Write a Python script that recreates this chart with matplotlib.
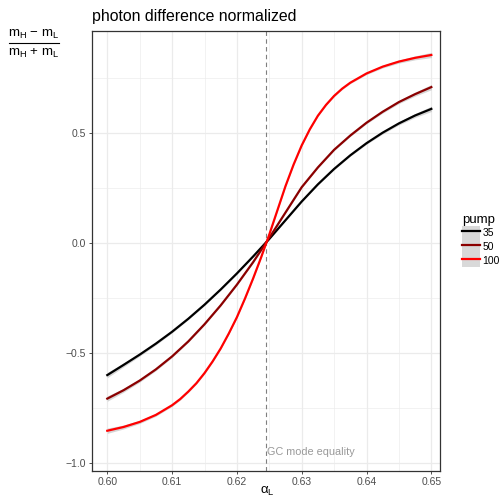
import matplotlib
matplotlib.use('Agg')
import matplotlib.pyplot as plt
from matplotlib.lines import Line2D
from matplotlib.patches import Patch
from matplotlib.ticker import MultipleLocator

plt.rcParams['font.family'] = ['Liberation Sans', 'DejaVu Sans']
plt.rcParams['mathtext.fontset'] = 'dejavusans'

# alpha_L values where the curves were read
alpha = [0.600, 0.6025, 0.605, 0.6075, 0.610, 0.6125, 0.615, 0.6175, 0.620, 0.6225,
         0.625, 0.6275, 0.630, 0.6325, 0.635, 0.6375, 0.640, 0.6425, 0.645, 0.6475, 0.650]

pump_35 = [-0.599, -0.553, -0.506, -0.456, -0.402, -0.343, -0.279, -0.210, -0.137, -0.060,
           0.020, 0.105, 0.190, 0.268, 0.338, 0.400, 0.455, 0.503, 0.545, 0.581, 0.611]
pump_50 = [-0.706, -0.668, -0.624, -0.573, -0.514, -0.446, -0.368, -0.282, -0.188, -0.086,
           0.025, 0.140, 0.255, 0.345, 0.425, 0.490, 0.548, 0.598, 0.642, 0.678, 0.710]
# standard error band half width
se = [0.012, 0.009, 0.007, 0.006, 0.005, 0.004, 0.004, 0.003, 0.003, 0.003,
      0.003, 0.003, 0.003, 0.003, 0.004, 0.004, 0.005, 0.006, 0.007, 0.009, 0.012]

# the pump 100 curve bends sharply, so it was read more densely
alpha_100 = [0.600, 0.6025, 0.605, 0.6075, 0.610, 0.61125, 0.6125, 0.61375, 0.615, 0.61625,
             0.6175, 0.61875, 0.620, 0.62125, 0.6225, 0.62375, 0.625, 0.62625, 0.6275, 0.62875,
             0.630, 0.63125, 0.6325, 0.63375, 0.635, 0.63625, 0.6375, 0.640, 0.6425, 0.645,
             0.6475, 0.650]
pump_100 = [-0.852, -0.835, -0.812, -0.780, -0.736, -0.708, -0.674, -0.636, -0.590, -0.537,
            -0.478, -0.410, -0.336, -0.251, -0.160, -0.063, 0.040, 0.150, 0.260, 0.358,
            0.445, 0.518, 0.580, 0.629, 0.670, 0.703, 0.730, 0.772, 0.803, 0.826,
            0.843, 0.856]
se_100 = [0.012, 0.009, 0.007, 0.006, 0.005, 0.005, 0.004, 0.004, 0.004, 0.004,
          0.003, 0.003, 0.003, 0.003, 0.003, 0.003, 0.003, 0.003, 0.003, 0.003,
          0.003, 0.003, 0.003, 0.003, 0.004, 0.004, 0.004, 0.005, 0.006, 0.007,
          0.009, 0.012]

pumps = ['35', '50', '100']
xs = [alpha, alpha, alpha_100]
series = [pump_35, pump_50, pump_100]
errs = [se, se, se_100]
colors = ['#000000', '#8B0000', '#FF0000']

gc_equality = 0.6245

fig = plt.figure(figsize=(5.01, 5.01), dpi=100)
ax = fig.add_axes([92 / 501, 1 - 471 / 501, 348 / 501, 440 / 501])

for x, vals, err, col in zip(xs, series, errs, colors):
    lo = [v - s for v, s in zip(vals, err)]
    hi = [v + s for v, s in zip(vals, err)]
    ax.fill_between(x, lo, hi, color='#999999', alpha=0.4, lw=0, zorder=2)
    ax.plot(x, vals, color=col, lw=1.6, zorder=3, solid_joinstyle='round')

ax.axvline(gc_equality, color='#7f7f7f', lw=0.8, ls=(0, (4, 3)), zorder=2.5)
ax.text(gc_equality + 0.0002, -0.95, 'GC mode equality', color='#999999',
        fontsize=7.8, ha='left', va='center')

ax.set_xlim(0.59764, 0.65134)
ax.set_ylim(-1.035, 0.965)
ax.xaxis.set_minor_locator(MultipleLocator(0.005))
ax.yaxis.set_minor_locator(MultipleLocator(0.25))
ax.set_xticks([0.60, 0.61, 0.62, 0.63, 0.64, 0.65])
ax.set_xticklabels(['0.60', '0.61', '0.62', '0.63', '0.64', '0.65'])
ax.set_yticks([-1.0, -0.5, 0.0, 0.5])
ax.set_yticklabels(['\u22121.0', '\u22120.5', '0.0', '0.5'])

ax.grid(which='major', color='#ebebeb', lw=0.9, zorder=0)
ax.grid(which='minor', color='#ebebeb', lw=0.45, zorder=0)
ax.set_axisbelow(True)
ax.tick_params(which='major', length=2.5, width=0.6, color='#333333',
               labelsize=7.5, labelcolor='#4d4d4d', pad=2)
ax.tick_params(which='minor', length=0)
for sp in ax.spines.values():
    sp.set_color('#333333')
    sp.set_linewidth(0.9)

fig.text(267 / 501, 1 - 491 / 501, '\u03b1$_\\mathregular{L}$', fontsize=9.5,
         ha='center', va='center')

fig.text(92 / 501, 1 - 16 / 501, 'photon difference normalized', fontsize=11.4,
         ha='left', va='center')

# y label as a stacked fraction
fig.text(34 / 501, 1 - 34 / 501, 'm$_\\mathregular{H}$ \u2212 m$_\\mathregular{L}$',
         fontsize=9.5, ha='center', va='center')
fig.add_artist(Line2D([9 / 501, 59 / 501], [1 - 43 / 501, 1 - 43 / 501],
                      color='black', lw=0.8, transform=fig.transFigure))
fig.text(34 / 501, 1 - 53 / 501, 'm$_\\mathregular{H}$ + m$_\\mathregular{L}$',
         fontsize=9.5, ha='center', va='center')

handles = [(Patch(facecolor='#d9d9d9', edgecolor='none'),
            Line2D([], [], color=c, lw=1.6)) for c in colors]
leg = ax.legend(handles, pumps, title='pump', loc='upper left',
                bbox_to_anchor=(462 / 501, 1 - 214 / 501), bbox_transform=fig.transFigure,
                frameon=False, fontsize=7.5, title_fontsize=9.5,
                handlelength=1.7, handleheight=1.66, labelspacing=0.0,
                handletextpad=0.25, borderaxespad=0, borderpad=0)
leg._legend_box.align = 'left'

fig.savefig('out.png', dpi=100)
